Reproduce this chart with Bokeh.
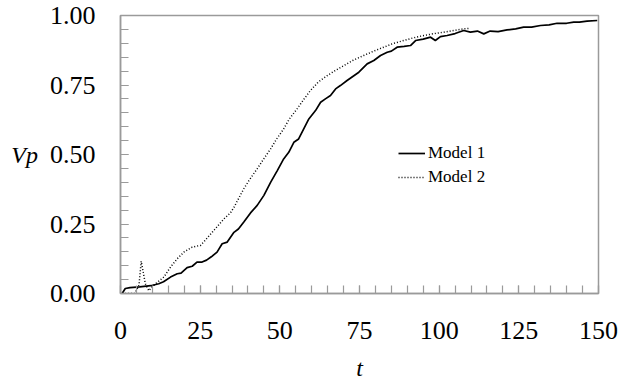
from bokeh.plotting import figure
from bokeh.models import Range1d, SingleIntervalTicker, Legend, LegendItem, PrintfTickFormatter
from bokeh.embed import file_html
from bokeh.resources import INLINE

# Model 1 (solid)
t1 = [0.5, 1.5, 3, 6, 9.5, 12, 13.5, 15.7, 17.8, 19, 20.9, 22.5, 24, 25.6, 27,
      28.5, 30.3, 31.9, 33.5, 35.6, 37, 38.7, 40.8, 42.9, 45, 47.1, 49.2, 51.2,
      52.8, 54.4, 55.9, 57.5, 59.1, 61.2, 62.8, 64.3, 65.9, 67.5, 69, 71.1, 74.8,
      77.4, 79.5, 81.6, 83.7, 85, 86.8, 89, 91, 92.6, 95, 97.3, 98.8, 100.4,
      102.5, 105, 107.7, 109.8, 112, 114, 116, 118.5, 121.3, 124, 126.5, 129,
      131.8, 134.5, 137, 140, 142.2, 144, 146.4, 149.6]
v1 = [0, 0.018, 0.021, 0.024, 0.028, 0.035, 0.042, 0.059, 0.071, 0.073, 0.093,
      0.098, 0.113, 0.113, 0.12, 0.132, 0.149, 0.179, 0.185, 0.22, 0.232, 0.257,
      0.29, 0.317, 0.353, 0.40, 0.442, 0.484, 0.508, 0.544, 0.556, 0.592, 0.628,
      0.658, 0.688, 0.70, 0.712, 0.736, 0.748, 0.766, 0.796, 0.826, 0.838, 0.856,
      0.868, 0.872, 0.886, 0.889, 0.892, 0.91, 0.915, 0.922, 0.91, 0.924, 0.928,
      0.935, 0.946, 0.94, 0.944, 0.934, 0.944, 0.942, 0.948, 0.952, 0.958, 0.958,
      0.964, 0.966, 0.972, 0.972, 0.976, 0.976, 0.98, 0.982]

# Model 2 (dotted)
t2 = [0.5, 2, 4.5, 5.8, 6.5, 7.8, 8.9, 9.9, 11.5, 13.6, 15.7, 17.8, 19.9, 22.5,
      25.1, 26.1, 29.3, 32.5, 34.5, 35.6, 38.7, 40.3, 42.9, 45, 47.1, 49, 51.2,
      53, 55.4, 57.5, 59.6, 62, 64.9, 67.5, 70.1, 73, 76.3, 79.5, 82.6, 85.5,
      88.9, 92, 95.2, 98, 101.4, 104.5, 107.7, 109.5]
v2 = [0, 0, 0, 0.03, 0.116, 0.035, 0.01, 0.024, 0.04, 0.059, 0.095, 0.125, 0.149,
      0.167, 0.173, 0.185, 0.227, 0.269, 0.29, 0.31, 0.377, 0.406, 0.449, 0.485,
      0.52, 0.556, 0.592, 0.628, 0.664, 0.698, 0.73, 0.76, 0.784, 0.803, 0.82,
      0.839, 0.856, 0.872, 0.886, 0.899, 0.91, 0.92, 0.928, 0.934, 0.94, 0.946,
      0.952, 0.954]

series_names = ["Model 1", "Model 2"]
x_label = "t"
y_label = "Vp"

FONT = "Liberation Serif"
GRAY = "#9a9a9a"

p = figure(width=620, height=384, output_backend="svg", toolbar_location=None,
           x_range=Range1d(0, 150), y_range=Range1d(0, 1),
           min_border_left=120, min_border_right=22, min_border_top=15,
           min_border_bottom=91)

p.xgrid.visible = False
p.ygrid.visible = False
p.outline_line_color = GRAY
p.outline_line_width = 1.5

r1 = p.line(t1, v1, line_color="black", line_width=1.7)
r2 = p.line(t2, v2, line_color="black", line_width=1.5, line_dash="1 2")

p.xaxis.ticker = SingleIntervalTicker(interval=25, num_minor_ticks=5)
p.yaxis.ticker = SingleIntervalTicker(interval=0.25, num_minor_ticks=5)
p.yaxis.formatter = PrintfTickFormatter(format="%.2f")

p.xaxis.axis_line_color = GRAY
p.yaxis.axis_line_color = GRAY
p.xaxis.axis_line_width = 1.5
p.yaxis.axis_line_width = 1.5
p.xaxis.major_tick_line_color = GRAY
p.yaxis.major_tick_line_color = GRAY
p.xaxis.minor_tick_line_color = GRAY
p.yaxis.minor_tick_line_color = GRAY
p.xaxis.major_tick_line_width = 1.2
p.yaxis.major_tick_line_width = 1.2
p.xaxis.minor_tick_line_width = 1.2
p.yaxis.minor_tick_line_width = 1.2
p.xaxis.major_tick_in = 8
p.yaxis.major_tick_in = 8
p.xaxis.major_tick_out = 0
p.yaxis.major_tick_out = 0
p.xaxis.minor_tick_in = 8
p.yaxis.minor_tick_in = 8
p.xaxis.minor_tick_out = 0
p.yaxis.minor_tick_out = 0

p.xaxis.major_label_text_font = FONT
p.yaxis.major_label_text_font = FONT
p.xaxis.major_label_text_font_size = "26px"
p.yaxis.major_label_text_font_size = "26px"
p.xaxis.major_label_text_color = "black"
p.yaxis.major_label_text_color = "black"

p.xaxis.axis_label = x_label
p.yaxis.axis_label = y_label
p.xaxis.axis_label_text_font = FONT
p.yaxis.axis_label_text_font = FONT
p.xaxis.axis_label_text_font_style = "italic"
p.yaxis.axis_label_text_font_style = "italic"
p.xaxis.axis_label_text_font_size = "24px"
p.yaxis.axis_label_text_font_size = "24px"
p.xaxis.axis_label_text_color = "black"
p.yaxis.axis_label_text_color = "black"
p.xaxis.major_label_standoff = 28
p.yaxis.major_label_standoff = 25
p.xaxis.axis_label_standoff = 13
p.yaxis.axis_label_standoff = 9
p.yaxis.axis_label_orientation = "horizontal"

legend = Legend(items=[LegendItem(label=series_names[0], renderers=[r1]),
                       LegendItem(label=series_names[1], renderers=[r2])],
                location=(278, 106), orientation="vertical",
                border_line_color=None, background_fill_alpha=0,
                padding=0, margin=0, spacing=4,
                glyph_width=27, glyph_height=20, label_height=20,
                label_standoff=3,
                label_text_font=FONT, label_text_font_size="17px",
                label_text_color="black")
p.add_layout(legend)

open("out.html", "w").write(file_html(p, INLINE))
